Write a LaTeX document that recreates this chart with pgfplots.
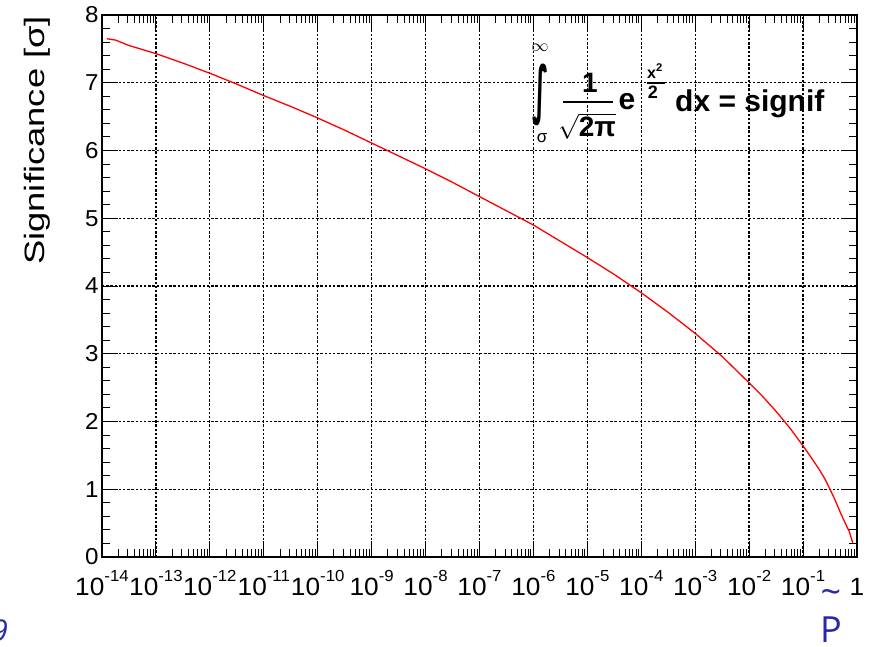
\documentclass[border=0pt]{standalone}
\usepackage{fontspec}
\usepackage{graphicx}
\usepackage{pgfplots}
\pgfplotsset{compat=1.18}
\usepackage{pgfplotstable}
\setmainfont{Liberation Sans}
\newfontfamily\tickfont[FakeStretch=1.05]{Liberation Sans}
\newfontfamily\titlefont[FakeStretch=1.3]{Liberation Sans}
\newfontfamily\slidefont{Open Sans}
\newfontfamily\symfont{DejaVu Sans}
\definecolor{slideblue}{RGB}{40,40,170}

% significance versus p-value
\pgfplotstableread{
p        sig
1.23e-14 7.65
1.78e-14 7.63
3.16e-14 7.55
1e-13    7.43
3.16e-13 7.29
1e-12    7.14
3.16e-12 6.98
1e-11    6.81
3.16e-11 6.65
1e-10    6.48
3.16e-10 6.30
1e-9     6.11
3.16e-9  5.92
1e-8     5.73
3.16e-8  5.53
1e-7     5.32
3.16e-7  5.11
1e-6     4.90
3.16e-6  4.66
1e-5     4.42
3.16e-5  4.17
1e-4     3.90
3.16e-4  3.61
1e-3     3.30
3.16e-3  2.96
1e-2     2.57
0.0178   2.37
0.0316   2.15
0.0562   1.91
0.1      1.64
0.141    1.47
0.2      1.29
0.251    1.16
0.316    1.00
0.398    0.83
0.501    0.64
0.631    0.47
0.724    0.37
0.832    0.21
}\curve

% minor ticks 2..9 in every decade
\def\minorlist{1e-14}
\foreach \e in {-14,...,-1}{\foreach \m in {2,...,9}{\xdef\minorlist{\minorlist,\m e\e}}}

% power-of-ten tick label
\newcommand\pten[1]{10\raisebox{14pt}{\fontsize{16}{16}\selectfont #1}}

\begin{document}
\begin{tikzpicture}
\useasboundingbox (-102pt,-89pt) rectangle (777pt,557pt);
\begin{axis}[
  scale only axis, width=755pt, height=542pt,
  at={(0pt,0pt)}, anchor=south west,
  xmode=log, xmin=1e-14, xmax=1, ymin=0, ymax=8,
  xtick={1e-14,1e-13,1e-12,1e-11,1e-10,1e-9,1e-8,1e-7,1e-6,1e-5,1e-4,1e-3,1e-2,1e-1,1},
  xticklabels={\pten{-14},\pten{-13},\pten{-12},\pten{-11},\pten{-10},\pten{-9},\pten{-8},\pten{-7},\pten{-6},\pten{-5},\pten{-4},\pten{-3},\pten{-2},\pten{-1},1},
  minor xtick/.expanded=\minorlist,
  ytick={0,1,2,3,4,5,6,7,8},
  yticklabels={0,1,2,3,4,5,6,7,8},
  minor y tick num=4,
  tick align=inside,
  major tick length=16pt, minor tick length=8pt,
  every tick/.style={black, line width=1pt},
  axis line style={black, line width=1.4pt},
  grid=major,
  major grid style={black, line width=1.3pt, dash pattern=on 2.4pt off 1.8pt},
  xticklabel style={font=\tickfont\fontsize{25}{25}\selectfont, anchor=base, inner sep=0pt, yshift=-38pt},
  yticklabel style={font=\tickfont\fontsize{23}{23}\selectfont},
  ylabel={Significance [σ]},
  ylabel style={font=\titlefont\fontsize{28}{28}\selectfont,
    at={(axis description cs:-0.086,1.005)}, anchor=east, rotate=0},
]
\addplot[red, line width=1.3pt] table[x=p, y=sig] {\curve};
\end{axis}

% formula drawn inside the frame
\begin{scope}[every node/.style={inner sep=0pt}]
\node at (439pt,462pt) {\scalebox{0.9}[2.1]{\symfont\bfseries\fontsize{30}{30}\selectfont ∫}};
\node at (438pt,509pt) {\fontsize{18}{18}\selectfont$\infty$};
\node at (440pt,419pt) {\fontsize{17}{17}\selectfont σ};
\node[font=\bfseries\fontsize{28}{28}\selectfont] at (488pt,474pt) {1};
\draw[line width=2pt] (461pt,455pt) -- (511pt,455pt);
\node[font=\bfseries\fontsize{28}{28}\selectfont, anchor=base] at (485pt,420pt) {$\sqrt{\mbox{\bfseries 2π}}$};
\node[font=\bfseries\fontsize{30}{30}\selectfont, anchor=base] at (525pt,447pt) {e};
\node[font=\bfseries\fontsize{16}{16}\selectfont] at (553pt,486pt) {x\textsuperscript{2}};
\draw[line width=1.2pt] (545pt,474pt) -- (563pt,474pt);
\node[font=\bfseries\fontsize{18}{18}\selectfont] at (551pt,465pt) {2};
\node[font=\bfseries\fontsize{30}{30}\selectfont, anchor=base west] at (573pt,445pt) {dx = signif};
\end{scope}

% slide residue below the frame
\node[font=\slidefont\fontsize{36}{36}\selectfont, text=slideblue, anchor=base, inner sep=0pt] at (729pt,-85pt) {P};
\node[font=\slidefont\fontsize{36}{36}\selectfont, text=slideblue, inner sep=0pt] at (729pt,-40pt) {\textasciitilde};
\node[font=\slidefont\itshape\fontsize{30}{30}\selectfont, text=slideblue, anchor=base east, inner sep=0pt] at (-94pt,-84pt) {9};
\end{tikzpicture}
\end{document}
